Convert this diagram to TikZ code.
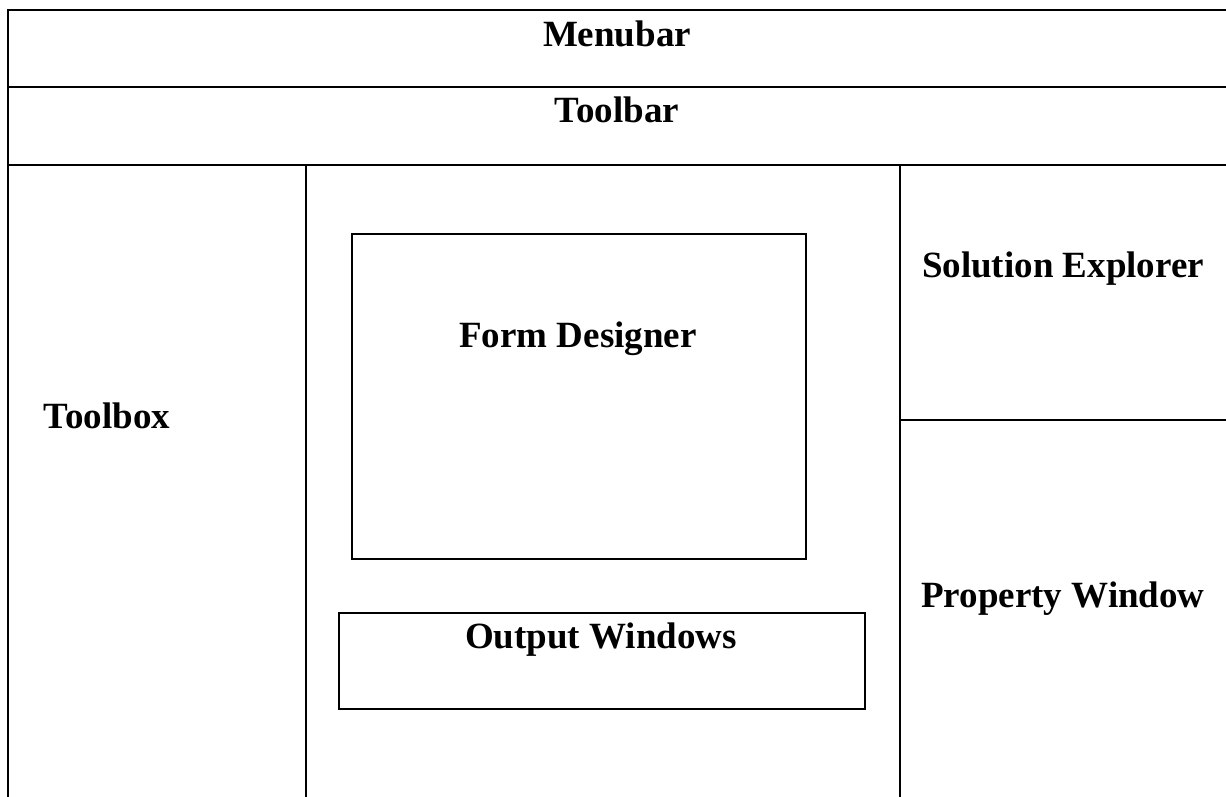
\documentclass[tikz,border=0pt]{standalone}
\usepackage{fontspec}
\setmainfont{Liberation Serif}
\begin{document}
\begin{tikzpicture}[x=1pt,y=-1pt,
  frame/.style={line width=2.2pt,draw=black},
  inner/.style={line width=1.6pt,draw=black},
  lbl/.style={font=\fontsize{37}{40}\selectfont\bfseries,anchor=base,inner sep=0pt}]
\useasboundingbox (0,0) rectangle (1226,796);
% outer frame lines
\draw[frame] (8,800) -- (8,10) -- (1232,10);
\draw[frame] (8,87) -- (1232,87);
\draw[frame] (8,165) -- (1232,165);
\draw[frame] (306,165) -- (306,800);
\draw[frame] (900,165) -- (900,800);
\draw[frame] (900,420) -- (1232,420);
% inner boxes
\draw[inner] (352,234) rectangle (806,559);
\draw[inner] (339,613) rectangle (865,709);
% labels
\node[lbl] (menubar) at (617,46) {Menubar};
\node[lbl] (toolbar) at (617,122) {Toolbar};
\node[lbl] (solexp) at (1063,277) {Solution Explorer};
\node[lbl] (toolbox) at (107,428) {Toolbox};
\node[lbl] (formdes) at (578,347) {Form Designer};
\node[lbl] (output) at (601,648) {Output Windows};
\node[lbl] (propwin) at (1063,607) {Property Window};
\end{tikzpicture}
\end{document}
